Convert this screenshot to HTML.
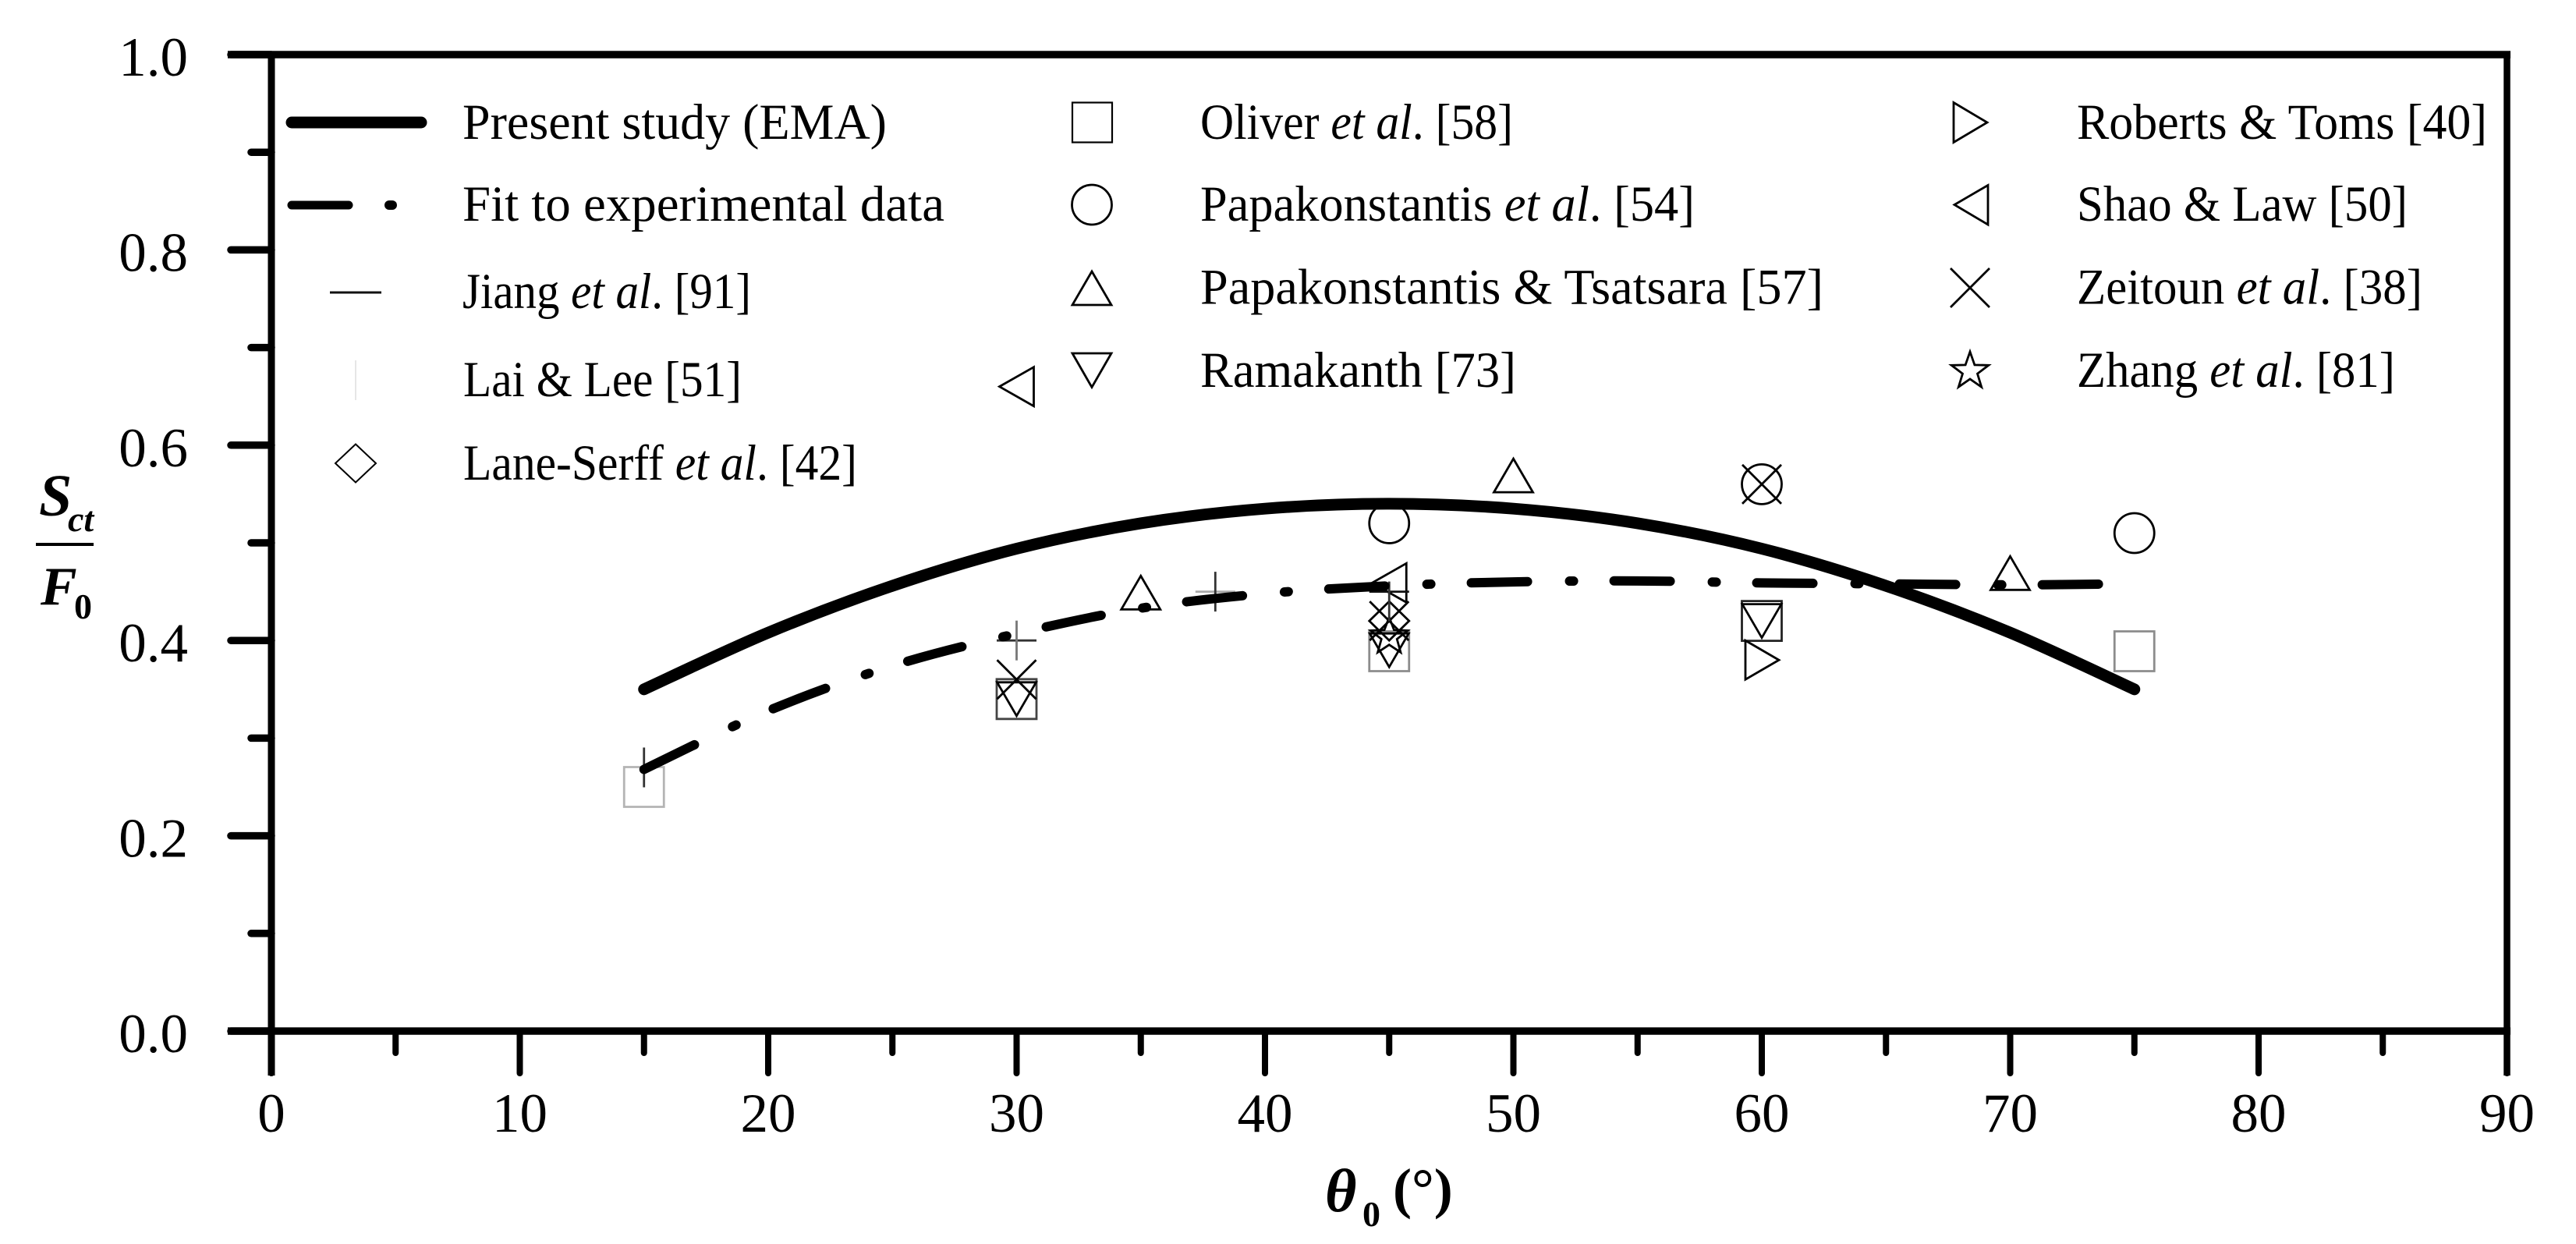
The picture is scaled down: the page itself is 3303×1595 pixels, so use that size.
<!DOCTYPE html>
<html lang="en">
<head>
<meta charset="utf-8">
<title>Sct/F0 versus theta0</title>
<style>
  html, body { margin: 0; padding: 0; background: #fff; width: 3303px; height: 1595px; overflow: hidden; }
  svg { display: block; }
  text { font-family: "Liberation Serif", serif; fill: #000; }
  .leg { font-size: 65px; }
  .tick { font-size: 71px; }
  .ax { font-weight: bold; font-size: 70px; }
  .mk { fill: none; stroke: #000; stroke-width: 2.8; }
</style>
</head>
<body>
<svg id="chart" xmlns="http://www.w3.org/2000/svg" width="3303" height="1595" viewBox="0 0 3303 1595">
  <rect x="0" y="0" width="3303" height="1595" fill="#fff"/>
  <g id="marks"></g>
  <g id="axes"></g>

  <g>
    <text class="ax" x="50" y="661" font-style="italic" style="font-size:76px">S</text>
    <text class="ax" x="87" y="681" font-style="italic" style="font-size:46px">ct</text>
    <line x1="46" y1="698" x2="120" y2="698" stroke="#000" stroke-width="4"/>
    <text class="ax" x="52" y="775" font-style="italic" style="font-size:70px">F</text>
    <text class="ax" x="95" y="793" style="font-size:46px">0</text>
  </g>
  <g>
    <text class="ax" x="1699" y="1553" font-style="italic" style="font-size:78px">θ</text>
    <text class="ax" x="1747" y="1572" style="font-size:46px">0</text>
    <text class="ax" x="1786" y="1548" style="font-size:72px">(°)</text>
  </g>

  <g>
    <g>
      <line x1="374" y1="157" x2="540" y2="157" stroke="#000" stroke-width="15" stroke-linecap="round"/>
      <text class="leg" x="593" y="178" textLength="544" lengthAdjust="spacingAndGlyphs">Present study (EMA)</text>
    </g>
    <g>
      <line x1="374" y1="263" x2="447" y2="263" stroke="#000" stroke-width="11" stroke-linecap="round"/>
      <line x1="499" y1="263" x2="503" y2="263" stroke="#000" stroke-width="12" stroke-linecap="round"/>
      <text class="leg" x="593" y="283" textLength="618" lengthAdjust="spacingAndGlyphs">Fit to experimental data</text>
    </g>
    <g>
      <line x1="423" y1="375" x2="489" y2="375" stroke="#111" stroke-width="3"/>
      <text class="leg" x="593" y="395" textLength="370" lengthAdjust="spacingAndGlyphs">Jiang <tspan font-style="italic">et al</tspan>. [91]</text>
    </g>
    <g>
      <line x1="456" y1="462" x2="456" y2="513" stroke="#ddd" stroke-width="1.5"/>
      <text class="leg" x="594" y="508" textLength="357" lengthAdjust="spacingAndGlyphs">Lai &amp; Lee [51]</text>
    </g>
    <g>
      <path class="mk" d="M456 569.5L482 594L456 618.5L430 594Z" style="stroke-width:2"/>
      <text class="leg" x="594" y="615" textLength="505" lengthAdjust="spacingAndGlyphs">Lane-Serff <tspan font-style="italic">et al</tspan>. [42]</text>
    </g>

    <g>
      <rect class="mk" x="1375" y="131.5" width="51" height="51" style="stroke-width:2.2"/>
      <text class="leg" x="1539" y="178" textLength="401" lengthAdjust="spacingAndGlyphs">Oliver <tspan font-style="italic">et al</tspan>. [58]</text>
    </g>
    <g>
      <circle class="mk" cx="1400" cy="262.5" r="25.5"/>
      <text class="leg" x="1539" y="283" textLength="634" lengthAdjust="spacingAndGlyphs">Papakonstantis <tspan font-style="italic">et al</tspan>. [54]</text>
    </g>
    <g>
      <path class="mk" d="M1400 348L1425 391H1375Z"/>
      <text class="leg" x="1539" y="389.5" textLength="799" lengthAdjust="spacingAndGlyphs">Papakonstantis &amp; Tsatsara [57]</text>
    </g>
    <g>
      <path class="mk" d="M1375 453H1425L1400 496.5Z"/>
      <text class="leg" x="1539" y="496" textLength="405" lengthAdjust="spacingAndGlyphs">Ramakanth [73]</text>
    </g>

    <g>
      <path class="mk" d="M2505 131.5L2548 157L2505 182.5Z"/>
      <text class="leg" x="2663" y="178" textLength="526" lengthAdjust="spacingAndGlyphs">Roberts &amp; Toms [40]</text>
    </g>
    <g>
      <path class="mk" d="M2549 237.5L2506 262.5L2549 288Z"/>
      <text class="leg" x="2663" y="283" textLength="424" lengthAdjust="spacingAndGlyphs">Shao &amp; Law [50]</text>
    </g>
    <g>
      <path class="mk" d="M2501 344L2551 394M2551 344L2501 394"/>
      <text class="leg" x="2663" y="389.5" textLength="443" lengthAdjust="spacingAndGlyphs">Zeitoun <tspan font-style="italic">et al</tspan>. [38]</text>
    </g>
    <g>
      <path class="mk" d="M2526 451L2531.9 467.9L2549.8 468.3L2535.5 479.1L2540.7 496.2L2526 486L2511.3 496.2L2516.5 479.1L2502.2 468.3L2520.1 467.9Z"/>
      <text class="leg" x="2663" y="496" textLength="408" lengthAdjust="spacingAndGlyphs">Zhang <tspan font-style="italic">et al</tspan>. [81]</text>
    </g>
  </g>
</svg>

<script>
// Axis tick data
const xMajorTicks = [0, 10, 20, 30, 40, 50, 60, 70, 80, 90];
const xMinorTicks = [5, 15, 25, 35, 45, 55, 65, 75, 85];
const xTickLabels = ['0', '10', '20', '30', '40', '50', '60', '70', '80', '90'];
const yMajorTicks = [0, 0.2, 0.4, 0.6, 0.8, 1.0];
const yMinorTicks = [0.1, 0.3, 0.5, 0.7, 0.9];
const yTickLabels = ['0.0', '0.2', '0.4', '0.6', '0.8', '1.0'];

// Present study (EMA) curve
const emaTheta = [15, 20, 25, 30, 35, 40, 45, 50, 55, 60, 65, 70, 75];
const emaRatio = [0.35, 0.408, 0.456, 0.494, 0.52, 0.535, 0.54, 0.535, 0.52, 0.494, 0.456, 0.408, 0.35];

// Fit to experimental data curve
const fitTheta = [15, 20, 25, 30, 35, 40, 45, 50, 55, 60, 65, 70, 73.6];
const fitRatio = [0.268, 0.328, 0.374, 0.407, 0.433, 0.448, 0.456, 0.46, 0.461, 0.459, 0.458, 0.457, 0.4577];

// Experimental series
const oliverTheta = [15, 30, 45, 60, 75];
const oliverRatio = [0.25, 0.34, 0.389, 0.42, 0.389];
const papakonstantisTheta = [45, 60, 75];
const papakonstantisRatio = [0.52, 0.56, 0.51];
const tsatsaraTheta = [35, 50, 70];
const tsatsaraRatio = [0.443, 0.563, 0.463];
const ramakanthTheta = [30, 45, 60];
const ramakanthRatio = [0.346, 0.396, 0.426];
const robertsTheta = [60];
const robertsRatio = [0.38];
const shaoTheta = [30, 45];
const shaoRatio = [0.66, 0.459];
const zeitounTheta = [30, 45, 60];
const zeitounRatio = [0.36, 0.42, 0.56];
const zhangTheta = [45];
const zhangRatio = [0.404];
const laneSerffTheta = [45];
const laneSerffRatio = [0.42];
const jiangTheta = [30, 38, 45];
const jiangRatio = [0.4, 0.45, 0.45];
const laiTheta = [15, 30, 38, 45];
const laiRatio = [0.27, 0.4, 0.45, 0.44];

const SVGNS = 'http://www.w3.org/2000/svg';
const PLOT = { x0: 348, xPerUnit: 31.85, y0: 1322, yPerUnit: 1252 };
const xScale = v => PLOT.x0 + v * PLOT.xPerUnit;
const yScale = v => PLOT.y0 - v * PLOT.yPerUnit;

const axesLayer = document.getElementById('axes');
const marksLayer = document.getElementById('marks');

function svgEl(tag, parent, attrs) {
  const el = document.createElementNS(SVGNS, tag);
  for (const k in attrs) el.setAttribute(k, attrs[k]);
  parent.appendChild(el);
  return el;
}

function axisLine(x1, y1, x2, y2, width, cap) {
  return svgEl('line', axesLayer, { x1: x1, y1: y1, x2: x2, y2: y2, stroke: '#000', 'stroke-width': width, 'stroke-linecap': cap });
}

// Plot frame
const frameTop = axisLine(292, yScale(1), 3219, yScale(1), 9.5, 'butt');


const frameBottom = axisLine(292, yScale(0), 3219, yScale(0), 9.5, 'butt');


const frameLeft = axisLine(xScale(0), yScale(1), xScale(0), 1379, 9, 'butt');


const frameRight = axisLine(xScale(90), yScale(1) - 4, xScale(90), 1379, 8.5, 'butt');



// X ticks
xMajorTicks.forEach((v, i) => {
  const t = axisLine(xScale(v), yScale(0), xScale(v), 1376, 8, 'round');
  
  
  const lab = svgEl('text', axesLayer, { class: 'tick', x: xScale(v), y: 1451, 'text-anchor': 'middle' });
  lab.textContent = xTickLabels[i];
  
  
});
xMinorTicks.forEach(v => {
  const t = axisLine(xScale(v), yScale(0), xScale(v), 1350, 8, 'round');
  
  
});

// Y ticks
yMajorTicks.forEach((v, i) => {
  const t = axisLine(296, yScale(v), xScale(0), yScale(v), 9.5, 'round');
  
  
  const lab = svgEl('text', axesLayer, { class: 'tick', x: 241, y: yScale(v) + 27, 'text-anchor': 'end' });
  lab.textContent = yTickLabels[i];
  
  
});
yMinorTicks.forEach(v => {
  const t = axisLine(322, yScale(v), xScale(0), yScale(v), 9.5, 'round');
  
  
});

// Smooth curve through data points
function smoothPath(xs, ys) {
  const p = xs.map((x, i) => [xScale(x), yScale(ys[i])]);
  let d = 'M' + p[0][0] + ' ' + p[0][1];
  for (let i = 0; i < p.length - 1; i++) {
    const a = p[Math.max(i - 1, 0)], b = p[i], c = p[i + 1], e = p[Math.min(i + 2, p.length - 1)];
    d += 'C' + (b[0] + (c[0] - a[0]) / 6) + ' ' + (b[1] + (c[1] - a[1]) / 6) + ' ' +
         (c[0] - (e[0] - b[0]) / 6) + ' ' + (c[1] - (e[1] - b[1]) / 6) + ' ' + c[0] + ' ' + c[1];
  }
  return d;
}

// Marker shapes
function markerPath(kind, x, y) {
  switch (kind) {
    case 'square': return `M${x - 25.5} ${y - 25.5}h51v51h-51Z`;
    case 'up': return `M${x} ${y - 29}L${x + 25} ${y + 14}H${x - 25}Z`;
    case 'down': return `M${x} ${y + 29}L${x + 25} ${y - 14}H${x - 25}Z`;
    case 'right': return `M${x - 21} ${y - 25}L${x + 22} ${y}L${x - 21} ${y + 25}Z`;
    case 'left': return `M${x + 22} ${y - 25}L${x - 22} ${y}L${x + 22} ${y + 25}Z`;
    case 'cross': return `M${x - 25} ${y - 25}L${x + 25} ${y + 25}M${x + 25} ${y - 25}L${x - 25} ${y + 25}`;
    case 'diamond': return `M${x} ${y - 25}L${x + 25.5} ${y}L${x} ${y + 25}L${x - 25.5} ${y}Z`;
    case 'hbar': return `M${x - 25.5} ${y}H${x + 25.5}`;
    case 'vbar': return `M${x} ${y - 25.5}V${y + 25.5}`;
    case 'circle': return `M${x - 25.5} ${y}a25.5 25.5 0 1 0 51 0a25.5 25.5 0 1 0 -51 0Z`;
    case 'star': {
      let d = '';
      for (let k = 0; k < 10; k++) {
        const r = k % 2 ? 10.5 : 25;
        const a = -Math.PI / 2 + k * Math.PI / 5;
        d += (k ? 'L' : 'M') + (x + r * Math.cos(a)) + ' ' + (y + r * Math.sin(a));
      }
      return d + 'Z';
    }
  }
  return '';
}

function drawSeries(kind, name, xs, ys, strokes) {
  const g = svgEl('g', marksLayer, {});
  
  
  xs.forEach((v, i) => {
    const m = svgEl('path', g, { d: markerPath(kind, xScale(v), yScale(ys[i])), class: 'mk' });
    
    
    if (strokes) m.style.stroke = strokes[i];
  });
}

const oliverShades = ['#b4b4b4', '#444', '#8c8c8c', '#222', '#8c8c8c'];
const jiangShades = ['#333', '#aaa', '#111'];
const laiShades = ['#333', '#777', '#333', '#333'];

drawSeries('square', 'oliver', oliverTheta, oliverRatio, oliverShades);
drawSeries('circle', 'papakonstantis', papakonstantisTheta, papakonstantisRatio);
drawSeries('up', 'papakonstantis-tsatsara', tsatsaraTheta, tsatsaraRatio);
drawSeries('down', 'ramakanth', ramakanthTheta, ramakanthRatio);
drawSeries('right', 'roberts-toms', robertsTheta, robertsRatio);
drawSeries('left', 'shao-law', shaoTheta, shaoRatio);
drawSeries('cross', 'zeitoun', zeitounTheta, zeitounRatio);
drawSeries('star', 'zhang', zhangTheta, zhangRatio);
drawSeries('diamond', 'lane-serff', laneSerffTheta, laneSerffRatio);
drawSeries('hbar', 'jiang', jiangTheta, jiangRatio, jiangShades);
drawSeries('vbar', 'lai-lee', laiTheta, laiRatio, laiShades);

// Curves
const emaLine = svgEl('path', marksLayer, { d: smoothPath(emaTheta, emaRatio), fill: 'none', stroke: '#000', 'stroke-width': 15, 'stroke-linecap': 'round' });



const fitLine = svgEl('path', marksLayer, { d: smoothPath(fitTheta, fitRatio), fill: 'none', stroke: '#000', 'stroke-width': 12, 'stroke-linecap': 'round', 'stroke-dasharray': '72 54 5 52' });


</script>
</body>
</html>
